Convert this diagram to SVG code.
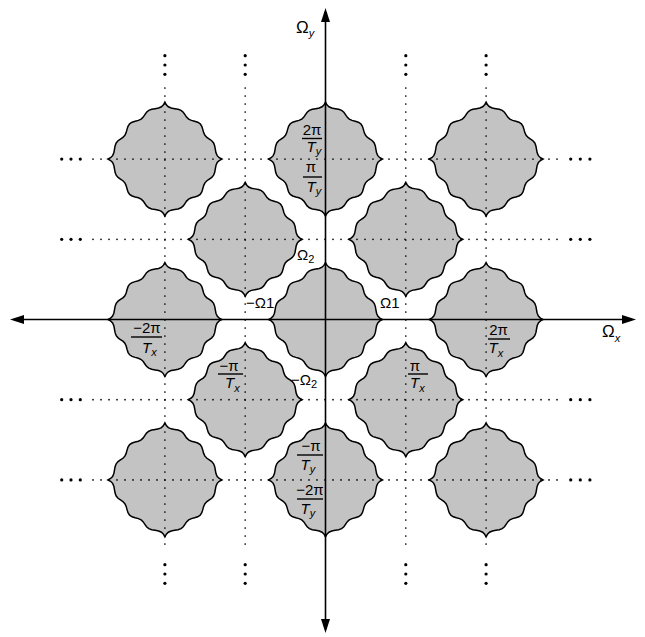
<svg xmlns="http://www.w3.org/2000/svg" xmlns:xlink="http://www.w3.org/1999/xlink" width="645" height="637" viewBox="0 0 645 637">
<style>
.blob{fill:#c3c3c3;stroke:#000;stroke-width:1.5;stroke-linejoin:miter;stroke-miterlimit:10}
.dot{stroke:#000;stroke-width:1.7;stroke-linecap:round;stroke-dasharray:0 8;fill:none}
.big{fill:#000}
.axis{stroke:#000;stroke-width:1.6;fill:none}
.bar{stroke:#000;stroke-width:1.4}
text{font-family:"Liberation Sans",Arial,sans-serif;fill:#000}
.f{font-size:15px}
.t{font-size:15px;font-style:italic}
.s{font-size:11px;font-style:italic}
.o{font-size:15px}
.ax{font-size:17px}
</style>
<defs>
<path id="blob" d="M0,-57 L1.42,-54.34 L3.44,-52.30 L6.28,-51.06 L9.70,-50.42 L13.17,-49.81 L16.13,-48.70 L18.35,-46.85 L20.02,-44.45 L21.65,-42.01 L23.75,-40.04 L26.52,-38.73 L29.72,-37.87 L32.82,-36.90 L35.29,-35.29 L36.90,-32.82 L37.87,-29.72 L38.73,-26.52 L40.04,-23.75 L42.01,-21.65 L44.45,-20.02 L46.85,-18.35 L48.70,-16.13 L49.81,-13.17 L50.42,-9.70 L51.06,-6.28 L52.30,-3.44 L54.34,-1.42 L57,0 L54.34,1.42 L52.30,3.44 L51.06,6.28 L50.42,9.70 L49.81,13.17 L48.70,16.13 L46.85,18.35 L44.45,20.02 L42.01,21.65 L40.04,23.75 L38.73,26.52 L37.87,29.72 L36.90,32.82 L35.29,35.29 L32.82,36.90 L29.72,37.87 L26.52,38.73 L23.75,40.04 L21.65,42.01 L20.02,44.45 L18.35,46.85 L16.13,48.70 L13.17,49.81 L9.70,50.42 L6.28,51.06 L3.44,52.30 L1.42,54.34 L0,57 L-1.42,54.34 L-3.44,52.30 L-6.28,51.06 L-9.70,50.42 L-13.17,49.81 L-16.13,48.70 L-18.35,46.85 L-20.02,44.45 L-21.65,42.01 L-23.75,40.04 L-26.52,38.73 L-29.72,37.87 L-32.82,36.90 L-35.29,35.29 L-36.90,32.82 L-37.87,29.72 L-38.73,26.52 L-40.04,23.75 L-42.01,21.65 L-44.45,20.02 L-46.85,18.35 L-48.70,16.13 L-49.81,13.17 L-50.42,9.70 L-51.06,6.28 L-52.30,3.44 L-54.34,1.42 L-57,0 L-54.34,-1.42 L-52.30,-3.44 L-51.06,-6.28 L-50.42,-9.70 L-49.81,-13.17 L-48.70,-16.13 L-46.85,-18.35 L-44.45,-20.02 L-42.01,-21.65 L-40.04,-23.75 L-38.73,-26.52 L-37.87,-29.72 L-36.90,-32.82 L-35.29,-35.29 L-32.82,-36.90 L-29.72,-37.87 L-26.52,-38.73 L-23.75,-40.04 L-21.65,-42.01 L-20.02,-44.45 L-18.35,-46.85 L-16.13,-48.70 L-13.17,-49.81 L-9.70,-50.42 L-6.28,-51.06 L-3.44,-52.30 L-1.42,-54.34 Z"/>
<marker id="arr" markerUnits="userSpaceOnUse" markerWidth="15" markerHeight="10" refX="10" refY="4.5" orient="auto-start-reverse">
<path d="M0,0 L14,4.5 L0,9 Z" fill="#000"/>
</marker>
</defs>

<g id="blobs">
<g id="b-r0-c0"><use href="#blob" class="blob" x="164.9" y="159.1"/></g>
<g id="b-r0-c2"><use href="#blob" class="blob" x="325.5" y="159.1"/></g>
<g id="b-r0-c4"><use href="#blob" class="blob" x="486.1" y="159.1"/></g>
<g id="b-r1-c1"><use href="#blob" class="blob" x="245.2" y="239.3"/></g>
<g id="b-r1-c3"><use href="#blob" class="blob" x="405.8" y="239.3"/></g>
<g id="b-r2-c0"><use href="#blob" class="blob" x="164.9" y="319.5"/></g>
<g id="b-r2-c2"><use href="#blob" class="blob" x="325.5" y="319.5"/></g>
<g id="b-r2-c4"><use href="#blob" class="blob" x="486.1" y="319.5"/></g>
<g id="b-r3-c1"><use href="#blob" class="blob" x="245.2" y="399.7"/></g>
<g id="b-r3-c3"><use href="#blob" class="blob" x="405.8" y="399.7"/></g>
<g id="b-r4-c0"><use href="#blob" class="blob" x="164.9" y="479.9"/></g>
<g id="b-r4-c2"><use href="#blob" class="blob" x="325.5" y="479.9"/></g>
<g id="b-r4-c4"><use href="#blob" class="blob" x="486.1" y="479.9"/></g>
</g>

<g id="grid">
<path class="dot" d="M93,159.1 H558 M93,239.3 H558 M93,399.7 H558 M93,479.9 H558"/>
<path class="dot" d="M164.9,88 V552 M245.2,88 V552 M405.8,88 V552 M486.1,88 V552"/>
<g class="big">
<circle cx="61.7" cy="159.1" r="1.6"/><circle cx="71" cy="159.1" r="1.6"/><circle cx="80.3" cy="159.1" r="1.6"/>
<circle cx="61.7" cy="239.3" r="1.6"/><circle cx="71" cy="239.3" r="1.6"/><circle cx="80.3" cy="239.3" r="1.6"/>
<circle cx="61.7" cy="399.7" r="1.6"/><circle cx="71" cy="399.7" r="1.6"/><circle cx="80.3" cy="399.7" r="1.6"/>
<circle cx="61.7" cy="479.9" r="1.6"/><circle cx="71" cy="479.9" r="1.6"/><circle cx="80.3" cy="479.9" r="1.6"/>
<circle cx="570.7" cy="159.1" r="1.6"/><circle cx="580.3" cy="159.1" r="1.6"/><circle cx="589.9" cy="159.1" r="1.6"/>
<circle cx="570.7" cy="239.3" r="1.6"/><circle cx="580.3" cy="239.3" r="1.6"/><circle cx="589.9" cy="239.3" r="1.6"/>
<circle cx="570.7" cy="399.7" r="1.6"/><circle cx="580.3" cy="399.7" r="1.6"/><circle cx="589.9" cy="399.7" r="1.6"/>
<circle cx="570.7" cy="479.9" r="1.6"/><circle cx="580.3" cy="479.9" r="1.6"/><circle cx="589.9" cy="479.9" r="1.6"/>
<circle cx="164.9" cy="55.7" r="1.6"/><circle cx="164.9" cy="65" r="1.6"/><circle cx="164.9" cy="74.3" r="1.6"/>
<circle cx="245.2" cy="55.7" r="1.6"/><circle cx="245.2" cy="65" r="1.6"/><circle cx="245.2" cy="74.3" r="1.6"/>
<circle cx="405.8" cy="55.7" r="1.6"/><circle cx="405.8" cy="65" r="1.6"/><circle cx="405.8" cy="74.3" r="1.6"/>
<circle cx="486.1" cy="55.7" r="1.6"/><circle cx="486.1" cy="65" r="1.6"/><circle cx="486.1" cy="74.3" r="1.6"/>
<circle cx="164.9" cy="564.7" r="1.6"/><circle cx="164.9" cy="574" r="1.6"/><circle cx="164.9" cy="583.3" r="1.6"/>
<circle cx="245.2" cy="564.7" r="1.6"/><circle cx="245.2" cy="574" r="1.6"/><circle cx="245.2" cy="583.3" r="1.6"/>
<circle cx="405.8" cy="564.7" r="1.6"/><circle cx="405.8" cy="574" r="1.6"/><circle cx="405.8" cy="583.3" r="1.6"/>
<circle cx="486.1" cy="564.7" r="1.6"/><circle cx="486.1" cy="574" r="1.6"/><circle cx="486.1" cy="583.3" r="1.6"/>
</g>
</g>

<g id="connectors">
<line class="axis" x1="14" y1="319.5" x2="632" y2="319.5" marker-start="url(#arr)" marker-end="url(#arr)"/>
<line class="axis" x1="325.5" y1="629" x2="325.5" y2="12" marker-start="url(#arr)" marker-end="url(#arr)"/>
</g>

<g id="labels">
<text class="ax" x="296" y="33">Ω<tspan class="s" font-size="13" dy="4">y</tspan></text>
<text class="ax" x="602" y="337">Ω<tspan class="s" font-size="13" dy="5">x</tspan></text>

<text class="f" x="312" y="135" text-anchor="middle">2π</text>
<line class="bar" x1="302" y1="138.5" x2="322" y2="138.5"/>
<text class="t" x="306.5" y="152">T<tspan class="s" dy="3">y</tspan></text>
<text class="f" x="311" y="172" text-anchor="middle">π</text>
<line class="bar" x1="303" y1="177" x2="322" y2="177"/>
<text class="t" x="306.5" y="192">T<tspan class="s" dy="3">y</tspan></text>

<text class="f" x="311" y="451" text-anchor="middle">−π</text>
<line class="bar" x1="297" y1="455" x2="323" y2="455"/>
<text class="t" x="300.5" y="470">T<tspan class="s" dy="3">y</tspan></text>
<text class="f" x="310" y="495" text-anchor="middle">−2π</text>
<line class="bar" x1="297" y1="499" x2="323" y2="499"/>
<text class="t" x="300.5" y="514">T<tspan class="s" dy="3">y</tspan></text>

<text class="f" x="147" y="333" text-anchor="middle">−2π</text>
<line class="bar" x1="131" y1="337" x2="162" y2="337"/>
<text class="t" x="142" y="353">T<tspan class="s" dy="3">x</tspan></text>

<text class="f" x="498.5" y="335" text-anchor="middle">2π</text>
<line class="bar" x1="488" y1="339" x2="510" y2="339"/>
<text class="t" x="488.5" y="353">T<tspan class="s" dy="4">x</tspan></text>

<text class="f" x="229" y="371" text-anchor="middle">−π</text>
<line class="bar" x1="218" y1="374" x2="243" y2="374"/>
<text class="t" x="225" y="388">T<tspan class="s" dy="4">x</tspan></text>

<text class="f" x="415" y="371" text-anchor="middle">π</text>
<line class="bar" x1="408" y1="374" x2="428" y2="374"/>
<text class="t" x="410" y="388">T<tspan class="s" dy="4">x</tspan></text>

<text class="o" x="297" y="260">Ω<tspan font-size="11" dy="3">2</tspan></text>
<text class="o" x="246" y="308">−Ω1</text>
<text class="o" x="380" y="308">Ω1</text>
<text class="o" x="291" y="385">−Ω<tspan font-size="11" dy="3">2</tspan></text>
</g>
</svg>
